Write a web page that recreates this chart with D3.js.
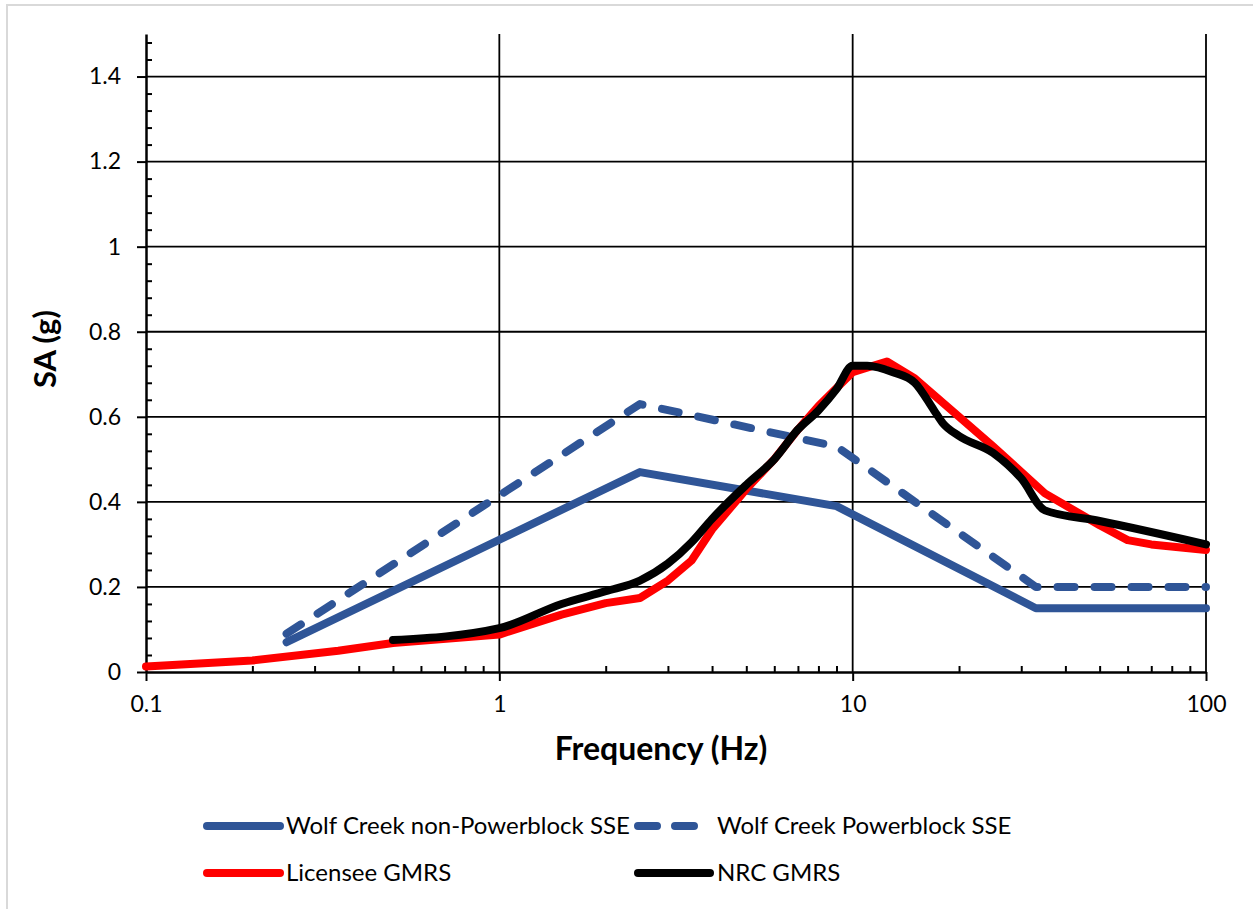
<!DOCTYPE html>
<html>
<head>
<meta charset="utf-8">
<script src="https://cdn.jsdelivr.net/npm/d3@7"></script>
<style>
  body { margin: 0; background: #fff; }
  text { font-family: Lato, "Open Sans", sans-serif; fill: #000; }
</style>
</head>
<body>
<div id="chart"></div>
<script>

// Wolf Creek non-Powerblock SSE
var nonPbFreq = [0.25, 2.5, 9, 33, 100];
var nonPbSA   = [0.07, 0.47, 0.39, 0.15, 0.15];

// Wolf Creek Powerblock SSE
var pbFreq = [0.25, 2.5, 9, 33, 100];
var pbSA   = [0.09, 0.63, 0.53, 0.20, 0.20];

// Licensee GMRS
var licFreq = [0.1, 0.2, 0.35, 0.5, 1, 1.5, 2, 2.5, 3, 3.5, 4, 5, 6, 7, 8, 10, 12.5, 15, 20, 25, 35, 50, 60, 70, 100];
var licSA   = [0.013, 0.027, 0.05, 0.068, 0.088, 0.135, 0.162, 0.174, 0.215, 0.262, 0.335, 0.43, 0.50, 0.57, 0.625, 0.705, 0.73, 0.69, 0.60, 0.53, 0.42, 0.345, 0.31, 0.30, 0.287];

// NRC GMRS
var nrcFreq = [0.5, 1, 1.5, 2, 2.5, 3, 3.5, 4, 5, 6, 7, 8, 9, 10, 11, 13, 15, 17, 18, 20, 25, 30, 35, 50, 100];
var nrcSA   = [0.075, 0.103, 0.16, 0.19, 0.215, 0.255, 0.305, 0.36, 0.44, 0.50, 0.57, 0.615, 0.665, 0.72, 0.72, 0.705, 0.68, 0.615, 0.585, 0.555, 0.515, 0.455, 0.38, 0.355, 0.30];

var xTicks = [0.1, 1, 10, 100];
var xTickLabels = ["0.1", "1", "10", "100"];
var yTicks = [0, 0.2, 0.4, 0.6, 0.8, 1, 1.2, 1.4];
var yTickLabels = ["0", "0.2", "0.4", "0.6", "0.8", "1", "1.2", "1.4"];

var seriesNames = ["Wolf Creek non-Powerblock SSE", "Wolf Creek Powerblock SSE", "Licensee GMRS", "NRC GMRS"];


SpectraChart = function(_parentElement){
    this.parentElement = _parentElement;
    this.initVis();
}

SpectraChart.prototype.initVis = function(){
    var vis = this;

    vis.margin = { top: 34, right: 47, bottom: 237, left: 146 };
    vis.width = 1253 - vis.margin.left - vis.margin.right,
    vis.height = 909 - vis.margin.top - vis.margin.bottom;

    var svg = d3.select("#" + vis.parentElement).append("svg")
        .attr("width", 1253)
        .attr("height", 909);

    // light chart-area border
    svg.append("rect")
        .attr("x", 7).attr("y", 5)
        .attr("width", 1270).attr("height", 930)
        .attr("fill", "none")
        .attr("stroke", "#d9d9d9")
        .attr("stroke-width", 2);

    vis.g = svg.append("g")
        .attr("transform", "translate(" + vis.margin.left + "," + vis.margin.top + ")");

    vis.x = d3.scaleLog().domain([0.1, 100]).range([0, vis.width]);
    vis.y = d3.scaleLinear().domain([0, 1.5]).range([vis.height, 0]);

    // gridlines
    vis.g.selectAll(".hgrid")
        .data(yTicks.slice(1))
        .enter().append("line")
        .attr("class", "hgrid")
        .attr("x1", 0).attr("x2", vis.width)
        .attr("y1", d => vis.y(d)).attr("y2", d => vis.y(d))
        .attr("stroke", "#000").attr("stroke-width", 1.8);

    vis.g.selectAll(".vgrid")
        .data(xTicks.slice(1))
        .enter().append("line")
        .attr("class", "vgrid")
        .attr("x1", d => vis.x(d)).attr("x2", d => vis.x(d))
        .attr("y1", vis.y(0)).attr("y2", vis.y(1.5))
        .attr("stroke", "#000").attr("stroke-width", 1.8);

    // minor ticks
    var xMinor = [];
    [0.1, 1, 10].forEach(function(dec){
        for (var k = 2; k <= 9; k++) xMinor.push(dec * k);
    });
    var yMinor = d3.range(0, 1.5001, 0.04).map(d => +d.toFixed(2))
        .filter(d => Math.abs(d * 5 - Math.round(d * 5)) > 1e-6);

    vis.g.append("g")
        .attr("transform", "translate(0," + vis.height + ")")
        .call(d3.axisBottom(vis.x).tickValues(xMinor).tickSize(-6).tickFormat(""))
        .call(g => g.select(".domain").remove())
        .selectAll("line").attr("stroke-width", 2);

    vis.g.append("g")
        .call(d3.axisLeft(vis.y).tickValues(yMinor).tickSize(-6).tickFormat(""))
        .call(g => g.select(".domain").remove())
        .selectAll("line").attr("stroke-width", 2);

    // main axes
    var xAxis = vis.g.append("g")
        .attr("transform", "translate(0," + vis.height + ")")
        .call(d3.axisBottom(vis.x).tickValues(xTicks).tickSizeInner(9).tickSizeOuter(0).tickPadding(15)
            .tickFormat((d, i) => xTickLabels[i]));
    xAxis.select(".domain").attr("stroke-width", 2.5);
    xAxis.selectAll("line").attr("stroke-width", 2);
    xAxis.selectAll("text").attr("font-size", 23).style("font-family", "Lato, sans-serif");

    var yAxis = vis.g.append("g")
        .call(d3.axisLeft(vis.y).tickValues(yTicks).tickSizeInner(9).tickSizeOuter(0).tickPadding(16)
            .tickFormat((d, i) => yTickLabels[i]));
    yAxis.select(".domain").attr("stroke-width", 2.5);
    yAxis.selectAll("line").attr("stroke-width", 2);
    yAxis.selectAll("text").attr("font-size", 23).style("font-family", "Lato, sans-serif");

    // axis titles
    vis.g.append("text")
        .attr("x", vis.width / 2 - 15)
        .attr("y", vis.height + 88)
        .attr("text-anchor", "middle")
        .attr("font-size", 32).attr("font-weight", "bold")
        .text("Frequency (Hz)");

    vis.g.append("text")
        .attr("transform", "translate(" + (-90) + "," + (vis.y(0.75) - 4) + ") rotate(-90)")
        .attr("text-anchor", "middle")
        .attr("font-size", 31).attr("font-weight", "bold")
        .text("SA (g)");

    // series
    var line = d3.line().x(d => vis.x(d[0])).y(d => vis.y(d[1]));
    var smooth = d3.line().x(d => vis.x(d[0])).y(d => vis.y(d[1])).curve(d3.curveMonotoneX);

    vis.series = [
        { name: seriesNames[0], pts: d3.zip(nonPbFreq, nonPbSA), color: "#2f5597", dash: null, gen: line },
        { name: seriesNames[1], pts: d3.zip(pbFreq, pbSA), color: "#2f5597", dash: "17,20", gen: line },
        { name: seriesNames[2], pts: d3.zip(licFreq, licSA), color: "#ff0000", dash: null, gen: line },
        { name: seriesNames[3], pts: d3.zip(nrcFreq, nrcSA), color: "#000000", dash: null, gen: smooth }
    ];

    vis.g.selectAll(".series")
        .data(vis.series)
        .enter().append("path")
        .attr("class", "series")
        .attr("d", d => d.gen(d.pts))
        .attr("fill", "none")
        .attr("stroke", d => d.color)
        .attr("stroke-width", 8)
        .attr("stroke-linecap", "round")
        .attr("stroke-linejoin", "round")
        .attr("stroke-dasharray", d => d.dash);

    // legend
    var legendPos = [[207, 826], [638, 826], [207, 873], [638, 873]];
    var legend = svg.selectAll(".legend")
        .data(vis.series)
        .enter().append("g")
        .attr("class", "legend")
        .attr("transform", (d, i) => "translate(" + legendPos[i][0] + "," + legendPos[i][1] + ")");

    legend.append("line")
        .attr("x1", 0).attr("x2", (d, i) => i == 1 ? 63 : (i == 3 ? 72 : 73))
        .attr("y1", 0).attr("y2", 0)
        .attr("stroke", d => d.color)
        .attr("stroke-width", 8)
        .attr("stroke-linecap", "round")
        .attr("stroke-dasharray", d => d.dash ? "19,18" : null);

    legend.append("text")
        .attr("x", 79)
        .attr("y", 8)
        .attr("font-size", 24)
        .text(d => d.name);
}

new SpectraChart("chart");

</script>
</body>
</html>
